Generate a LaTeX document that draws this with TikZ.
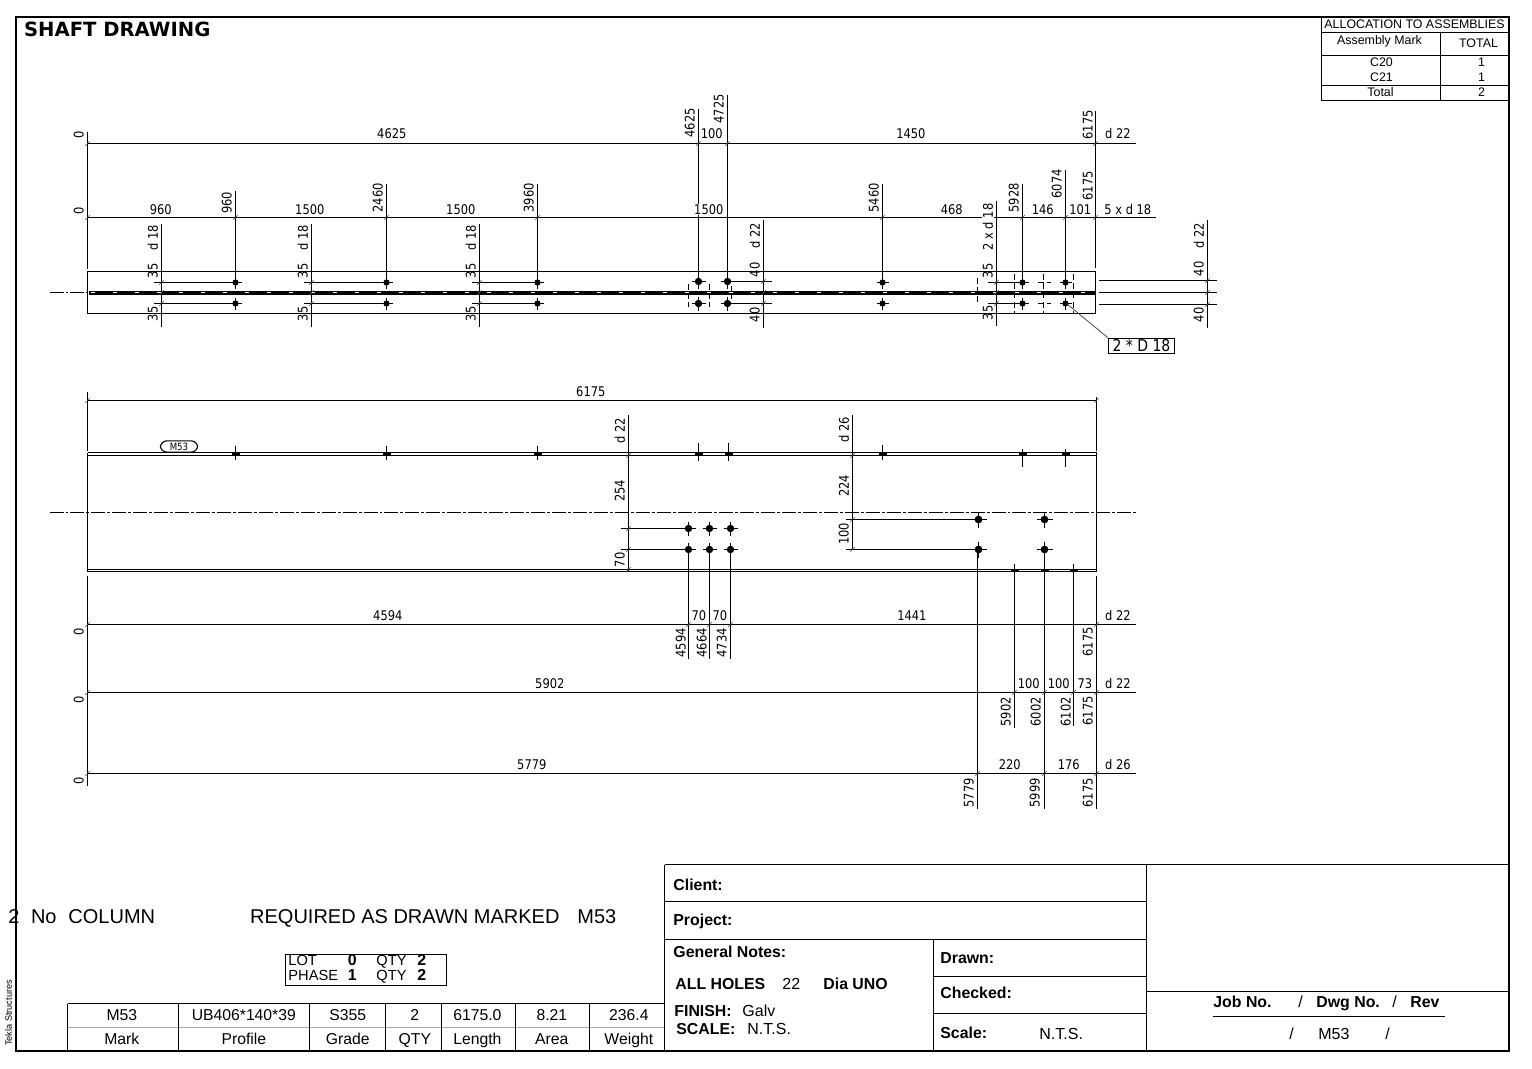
\documentclass[tikz,border=0pt]{standalone}
\usepackage{fontspec}
\setmainfont{Liberation Sans}
\newfontfamily\dimfont[FakeStretch=0.86]{DejaVu Sans}
\newfontfamily\headfont{DejaVu Sans}
\tikzset{
	nudged/.style={xshift=-0.5pt, yshift=0.4pt},
	dimtext/.style={nudged, font=\dimfont\fontsize{10}{11}\selectfont, inner sep=0pt},
	dimup/.style={dimtext, rotate=90},
	gaptext/.style={dimtext, fill=white, inner xsep=0.5pt},
	notetext/.style={nudged, font=\fontsize{12}{14}\selectfont, inner sep=0pt, anchor=base west},
	boldnote/.style={notetext, font=\fontsize{11.9}{14}\selectfont\bfseries},
	lottext/.style={notetext, font=\fontsize{11}{13}\selectfont},
	celltext/.style={nudged, font=\fontsize{11.8}{14}\selectfont, inner sep=0pt, anchor=base},
	bigtext/.style={nudged, font=\fontsize{15}{17}\selectfont, inner sep=0pt, anchor=base},
	smalltext/.style={font=\fontsize{9.3}{11}\selectfont, inner sep=0pt},
	tickmark/.style={line width=0.4pt, black!65},
	farhole/.style={dash pattern=on 4.5pt off 2.5pt},
	centreline/.style={line width=0.95pt, dash pattern=on 10.5pt off 1.5pt on 2.2pt off 1.5pt},
}
% Bolt hole: dot with a cross through it (x, y, radius, arm)
\newcommand{\boltmark}[4]{
	\fill (#1,#2) circle (#3);
	\draw (#1-#4,#2) -- (#1+#4,#2) (#1,#2-#4) -- (#1,#2+#4);
}
\begin{document}
\begin{tikzpicture}[x=0.75pt,y=0.75pt,yscale=-1,xscale=1,line width=0.85pt]
	\useasboundingbox (0,0) rectangle (1532,1068);
	\begin{scope}[shift={(0.5,0.5)}]

	% Sheet frame
	\draw[line width=1.5pt] (15.5,16.5) rectangle (1508.5,1050.5);
	\node[font=\headfont\bfseries\fontsize{14.7}{17}\selectfont, inner sep=0pt, anchor=west] (sheettitle) at (23,29) {SHAFT DRAWING};

	% Allocation table, top right
	\draw (1321,17) -- (1321,100) -- (1508,100);
	\draw (1321,32) -- (1508,32) (1321,55) -- (1508,55) (1321,85) -- (1508,85) (1440,32) -- (1440,100);
	\node[smalltext] (alloctitle) at (1414,24) {ALLOCATION TO ASSEMBLIES};
	\foreach \xpos/\ypos/\txt [count=\n] in {1379/41/Assembly Mark, 1478/43/TOTAL, 1381/62/C20, 1381/77/C21, 1380/92/Total, 1481/62/1, 1481/77/1, 1481/92/2}
		\node[smalltext] (alloc\n) at (\xpos,\ypos) {\txt};

	% Top view: running dimension lines
	\draw (87,143) -- (1135,143);
	\draw (87,217) -- (981,217) (993,217) -- (1155,217);
	\draw (87,131) -- (87,268);
	\draw (1095,110) -- (1095,267);

	% Top view: extension lines down to the upper holes
	\foreach \xpos/\ytop in {235/190, 386/183, 537/183, 698/108, 727/94, 882/183, 1022/183, 1065/169}
		\draw (\xpos,\ytop) -- (\xpos,282);

	% Top view: beam outline and web
	\draw (87,271) rectangle (1095,313);
	\draw[centreline] (49,292) -- (87,292);
	\draw[line width=3pt] (88,292) -- (1095,292);
	\draw[white, line width=0.5pt, dash pattern=on 3.5pt off 13pt] (90,292) -- (1090,292);

	% Top view: edge distance lines
	\foreach \xpos/\ytop/\ybot in {161/223/326, 311/223/326, 479/223/326, 763/219/327, 996/200/325}
		\draw (\xpos,\ytop) -- (\xpos,\ybot);
	\foreach \xa/\xb in {153/235, 303/386, 471/537}
		\draw (\xa,282) -- (\xb,282) (\xa,303) -- (\xb,303);
	\draw (727,281) -- (771,281) (727,303) -- (771,303);
	\draw (987,282) -- (1022,282) (987,303) -- (1022,303);

	% Top view: side dimension on the right
	\draw (1207,219) -- (1207,327);
	\foreach \ypos in {280, 292, 304}
		\draw (1098,\ypos) -- (1216,\ypos);

	% Top view: holes in the near flange
	\foreach \xpos in {235, 386, 537, 882, 1022, 1065} {
		\boltmark{\xpos}{282}{3.1}{6}
		\boltmark{\xpos}{303}{3.1}{6}
	}
	\foreach \xpos in {698, 727} {
		\boltmark{\xpos}{281}{3.7}{7}
		\boltmark{\xpos}{303}{3.7}{7}
	}

	% Top view: holes on the far side, dashed
	\foreach \xpos/\ytop/\ybot in {688/283/306, 709/283/306, 731/285/298, 977/277/303, 1014/273/312, 1043/273/312, 1073/273/312}
		\draw[farhole] (\xpos,\ytop) -- (\xpos,\ybot);
	\foreach \xa/\xb/\ypos in {1007/1018/282, 1007/1012/303, 1037/1050/282, 1037/1050/303}
		\draw[farhole] (\xa,\ypos) -- (\xb,\ypos);

	% Top view: note on the holes
	\node[draw, font=\dimfont\fontsize{12.2}{14}\selectfont, inner sep=0pt, minimum width=49.5pt, minimum height=11.5pt] (holenote) at (1141,345.5) {2 * D 18};
	\coordinate (holenotepoint) at (1066,303);
	\draw[black!70, line width=0.6pt] (holenotepoint) -- (holenote.north west);

	% Top view: texts
	\foreach \xpos/\ypos/\txt [count=\n] in {392/134/4625, 712/134/100, 911/134/1450, 1118/134/d 22, 161/209.5/960, 310/209.5/1500, 461/209.5/1500, 952/209.5/468, 1043/209.5/146, 1080.5/209.5/101, 1128/209.5/5 x d 18}
		\node[dimtext] (toplab\n) at (\xpos,\ypos) {\txt};
	\node[gaptext] (toplabgap) at (709,209.5) {1500};
	\foreach \xpos/\ypos/\txt [count=\n] in {79/135/0, 79/211/0, 227/203/960, 378/198/2460, 529/198/3960, 690/123/4625, 719/109/4725, 874/198/5460, 1014/198/5928, 1057/184/6074, 1088/125/6175, 1088/186/6175, 153/238/d 18, 303/238/d 18, 471/238/d 18, 755/236/d 22, 988/227/2 x d 18, 1199/236/d 22, 153/271/35, 153/314/35, 303/271/35, 303/314/35, 471/271/35, 471/314/35, 755/270/40, 755/315/40, 988/271/35, 988/313/35, 1199/269/40, 1199/315/40}
		\node[dimup] (toprot\n) at (\xpos,\ypos) {\txt};

	% Side view: overall dimension and outline
	\draw (87,400) -- (1096,400);
	\draw (87,391) -- (87,450) (1096,396) -- (1096,450);
	\draw (87,452) -- (1096,452) (87,455) -- (1096,455);
	\draw (87,569) -- (1096,569) (87,571) -- (1096,571);
	\draw (87,452) -- (87,571) (1096,452) -- (1096,571);
	\draw[centreline] (49,512) -- (1135,512);
	\node[draw, rounded corners=5pt, font=\dimfont\fontsize{7.5}{8}\selectfont, inner sep=0pt, minimum width=28pt, minimum height=8.5pt] (markoval) at (178.5,446) {M53};

	% Side view: holes seen in the top flange
	\foreach \xpos/\ytop/\ybot in {235/445/459, 386/445/459, 537/445/459, 698/442/460, 728/442/460, 882/444/459, 1022/448/466, 1065/448/466} {
		\fill (\xpos-4,452) rectangle (\xpos+4,455);
		\draw (\xpos,\ytop) -- (\xpos,\ybot);
	}

	% Side view: holes seen in the bottom flange
	\foreach \xpos in {1014, 1044, 1073}
		\fill (\xpos-4,569) rectangle (\xpos+4,571);

	% Side view: hole groups
	\draw (628,414) -- (628,570);
	\draw (852,414) -- (852,549);
	\draw (620,528) -- (688,528) (620,549) -- (688,549);
	\draw (845,519) -- (978,519) (845,549) -- (978,549);
	\foreach \xpos in {688, 709, 730} {
		\boltmark{\xpos}{528}{3.7}{7}
		\boltmark{\xpos}{549}{3.7}{7}
	}
	\foreach \xpos in {978, 1044} {
		\boltmark{\xpos}{519}{3.9}{8}
		\boltmark{\xpos}{549}{3.9}{8}
	}

	% Bottom dimension lines
	\foreach \ypos in {624, 692, 773}
		\draw (87,\ypos) -- (1135,\ypos);
	\draw (87,575) -- (87,785) (1096,575) -- (1096,808);
	\foreach \xpos/\ytop/\ybot in {688/549/658, 709/549/658, 730/549/658, 977/549/808, 1014/563/727, 1044/549/808, 1073/563/725}
		\draw (\xpos,\ytop) -- (\xpos,\ybot);

	% Side view: texts
	\foreach \xpos/\ypos/\txt [count=\n] in {591/392/6175, 388/616/4594, 699/616/70, 720/616/70, 912/616/1441, 1118/616/d 22, 550/684/5902, 1029/684/100, 1059/684/100, 1085/684/73, 1118/684/d 22, 532/765/5779, 1010/765/220, 1069/765/176, 1118/765/d 26}
		\node[dimtext] (sidelab\n) at (\xpos,\ypos) {\txt};
	\foreach \xpos/\ypos/\txt [count=\n] in {620/431/d 22, 620/491/254, 844/430/d 26, 844/486/224, 844/534/100, 79/632/0, 79/700/0, 79/781/0, 681/643/4594, 702/643/4664, 722/643/4734, 1088/642/6175, 1006/712/5902, 1036/712/6002, 1066/712/6102, 1088/711/6175, 969/793/5779, 1035/793/5999, 1088/793/6175}
		\node[dimup] (siderot\n) at (\xpos,\ypos) {\txt};
	\node[dimup, fill=white, inner ysep=0.5pt] (sidegap) at (620,560) {70};

	% Ticks on the dimension lines
	\foreach \xpos/\ypos in {87/143, 698/143, 727/143, 1095/143, 87/217, 235/217, 386/217, 537/217, 882/217, 1022/217, 1065/217, 1095/217,
		161/282, 161/292, 161/303, 311/282, 311/292, 311/303, 479/282, 479/292, 479/303, 763/281, 763/292, 763/303, 996/282, 996/292, 996/303, 1207/280, 1207/292, 1207/304,
		87/400, 1096/400, 628/455, 628/528, 628/549, 628/569, 852/455, 852/519, 852/549,
		87/624, 688/624, 709/624, 730/624, 1096/624, 87/692, 1014/692, 1044/692, 1073/692, 1096/692, 87/773, 977/773, 1044/773, 1096/773}
		\draw[tickmark] (\xpos-2.5,\ypos+2.5) -- (\xpos+2.5,\ypos-2.5);

	% Assembly text, bottom left
	\foreach \xpos/\txt [count=\n] in {14/2, 44/No, 112/COLUMN, 405/REQUIRED AS DRAWN MARKED, 597/M53}
		\node[bigtext] (asm\n) at (\xpos,924) {\txt};
	\node[rotate=90, font=\fontsize{6.9}{8}\selectfont, inner sep=0pt] (teklamark) at (8,1012.5) {Tekla Structures};

	% Lot box
	\draw (285,954) rectangle (446,985);
	\foreach \ypos/\first/\second [count=\n] in {966/LOT/0, 981/PHASE/1} {
		\node[lottext] (lotname\n) at (288,\ypos) {\first};
		\node[boldnote, anchor=base] (lotval\n) at (352.5,\ypos) {\second};
		\node[lottext] (lotqty\n) at (376,\ypos) {QTY};
		\node[boldnote, anchor=base] (lotnum\n) at (422,\ypos) {2};
	}

	% Part table
	\draw (67,1003) -- (664,1003);
	\draw[line width=1.4pt, black!35] (67,1027) -- (515,1027);
	\draw[black!35] (515,1027) -- (664,1027);
	\foreach \xpos in {67, 178, 309, 385, 441, 515, 589, 664}
		\draw (\xpos,1003) -- (\xpos,1051);
	\foreach \xpos/\upper/\lower [count=\n] in {122/M53/Mark, 244/UB406*140*39/Profile, 348/S355/Grade, 415/2/QTY, 477.5/6175.0/Length, 552/8.21/Area, 629/236.4/Weight} {
		\node[celltext] (partval\n) at (\xpos,1020.5) {\upper};
		\node[celltext] (partname\n) at (\xpos,1044.5) {\lower};
	}

	% Title block lines
	\draw (664,864) -- (1508,864);
	\draw (664,864) -- (664,1051);
	\draw (664,901) -- (1146,901) (664,939) -- (1146,939);
	\draw (933,976) -- (1146,976) (933,1013) -- (1146,1013);
	\draw (933,939) -- (933,1051) (1146,864) -- (1146,1051);
	\draw (1146,991) -- (1508,991);
	\draw (1212,1016) -- (1444,1016);

	% Title block texts
	\foreach \xpos/\ypos/\txt [count=\n] in {673/891/Client:, 673/926/Project:, 673/958/General Notes:, 675/990/ALL HOLES, 823/990/Dia UNO, 674/1017/FINISH:, 676/1035/SCALE:, 940/964/Drawn:, 940/999/Checked:, 940/1039/Scale:, 1213/1008/Job No., 1316/1008/Dwg No., 1410/1008/Rev}
		\node[boldnote] (blockbold\n) at (\xpos,\ypos) {\txt};
	\foreach \xpos/\ypos/\txt [count=\n] in {782/990/22, 742/1017/Galv, 747/1035/N.T.S., 1039/1040/N.T.S., 1298/1008/{/}, 1392/1008/{/}, 1289/1040/{/}, 1318/1040/M53, 1385/1040/{/}}
		\node[notetext] (blocktext\n) at (\xpos,\ypos) {\txt};
	\end{scope}
\end{tikzpicture}
\end{document}
